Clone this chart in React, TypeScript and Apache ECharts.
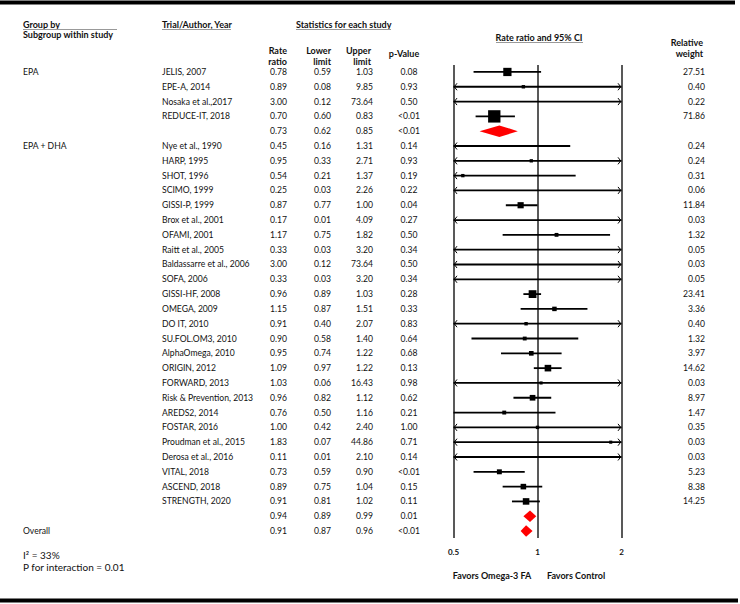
import React, { useEffect, useRef } from "react";
import * as echarts from "echarts";

// ---------- data ----------
const epaTrials = ["JELIS, 2007", "EPE-A, 2014", "Nosaka et al.,2017", "REDUCE-IT, 2018"];
const epaRate = [0.78, 0.89, 3.0, 0.7];
const epaLower = [0.59, 0.08, 0.12, 0.6];
const epaUpper = [1.03, 9.85, 73.64, 0.83];
const epaP = ["0.08", "0.93", "0.50", "<0.01"];
const epaWeight = [27.51, 0.4, 0.22, 71.86];
const epaPooled = [0.73, 0.62, 0.85];
const epaPooledP = "<0.01";

const dhaTrials = [
  "Nye et al., 1990", "HARP, 1995", "SHOT, 1996", "SCIMO, 1999", "GISSI-P, 1999",
  "Brox et al., 2001", "OFAMI, 2001", "Raitt et al., 2005", "Baldassarre et al., 2006", "SOFA, 2006",
  "GISSI-HF, 2008", "OMEGA, 2009", "DO IT, 2010", "SU.FOL.OM3, 2010", "AlphaOmega, 2010",
  "ORIGIN, 2012", "FORWARD, 2013", "Risk & Prevention, 2013", "AREDS2, 2014", "FOSTAR, 2016",
  "Proudman et al., 2015", "Derosa et al., 2016", "VITAL, 2018", "ASCEND, 2018", "STRENGTH, 2020",
];
const dhaRate = [0.45, 0.95, 0.54, 0.25, 0.87, 0.17, 1.17, 0.33, 3.0, 0.33, 0.96, 1.15, 0.91, 0.9, 0.95, 1.09, 1.03, 0.96, 0.76, 1.0, 1.83, 0.11, 0.73, 0.89, 0.91];
const dhaLower = [0.16, 0.33, 0.21, 0.03, 0.77, 0.01, 0.75, 0.03, 0.12, 0.03, 0.89, 0.87, 0.4, 0.58, 0.74, 0.97, 0.06, 0.82, 0.5, 0.42, 0.07, 0.01, 0.59, 0.75, 0.81];
const dhaUpper = [1.31, 2.71, 1.37, 2.26, 1.0, 4.09, 1.82, 3.2, 73.64, 3.2, 1.03, 1.51, 2.07, 1.4, 1.22, 1.22, 16.43, 1.12, 1.16, 2.4, 44.86, 2.1, 0.9, 1.04, 1.02];
const dhaP = ["0.14", "0.93", "0.19", "0.22", "0.04", "0.27", "0.50", "0.34", "0.50", "0.34", "0.28", "0.33", "0.83", "0.64", "0.68", "0.13", "0.98", "0.62", "0.21", "1.00", "0.71", "0.14", "<0.01", "0.15", "0.11"];
const dhaWeight = [0.24, 0.24, 0.31, 0.06, 11.84, 0.03, 1.32, 0.05, 0.03, 0.05, 23.41, 3.36, 0.4, 1.32, 3.97, 14.62, 0.03, 8.97, 1.47, 0.35, 0.03, 0.03, 5.23, 8.38, 14.25];
const dhaPooled = [0.94, 0.89, 0.99];
const dhaPooledP = "0.01";

const overallPooled = [0.91, 0.87, 0.96];
const overallP = "<0.01";

const axisTicks = [0.5, 1, 2];

// ---------- rows ----------
type Row = {
  group: string; trial: string; rate: number; lower: number; upper: number;
  p: string; weight: number | null; pooled: boolean;
};
const rows: Row[] = [];
epaTrials.forEach((t, i) =>
  rows.push({ group: i === 0 ? "EPA" : "", trial: t, rate: epaRate[i], lower: epaLower[i], upper: epaUpper[i], p: epaP[i], weight: epaWeight[i], pooled: false })
);
rows.push({ group: "", trial: "", rate: epaPooled[0], lower: epaPooled[1], upper: epaPooled[2], p: epaPooledP, weight: null, pooled: true });
dhaTrials.forEach((t, i) =>
  rows.push({ group: i === 0 ? "EPA + DHA" : "", trial: t, rate: dhaRate[i], lower: dhaLower[i], upper: dhaUpper[i], p: dhaP[i], weight: dhaWeight[i], pooled: false })
);
rows.push({ group: "", trial: "", rate: dhaPooled[0], lower: dhaPooled[1], upper: dhaPooled[2], p: dhaPooledP, weight: null, pooled: true });
rows.push({ group: "Overall", trial: "", rate: overallPooled[0], lower: overallPooled[1], upper: overallPooled[2], p: overallP, weight: null, pooled: true });

const FONT = "Lato";
const INK = "#111";
const BODY = 8.6;

function txt(text: string, x: number, y: number, align: string, bold = false, size = 9) {
  return {
    type: "text",
    x, y,
    style: { text, fill: INK, fontFamily: FONT, fontSize: size, fontWeight: bold ? "bold" : "normal", align, verticalAlign: "middle" },
  };
}
function hline(x1: number, x2: number, y: number, w: number, color: string) {
  return { type: "line", shape: { x1, y1: y, x2, y2: y }, style: { stroke: color, lineWidth: w } };
}

export default function App() {
  const ref = useRef<HTMLDivElement>(null);
  useEffect(() => {
    if (!ref.current) return;
    const chart = echarts.init(ref.current, null, { renderer: "svg" });
    const amin = axisTicks[0];
    const amax = axisTicks[axisTicks.length - 1];

    const studyData: number[][] = [];
    const pooledData: number[][] = [];
    rows.forEach((r, i) => {
      if (r.pooled) pooledData.push([r.rate, i, r.lower, r.upper]);
      else studyData.push([r.rate, i, r.lower, r.upper, r.weight as number]);
    });

    const option: any = {
      animation: false,
      grid: { left: 453.5, right: 118.5, top: 65, bottom: 66, containLabel: false, outerBoundsMode: "none" },
      xAxis: {
        type: "log", logBase: 2, min: amin, max: amax,
        axisLine: { show: false }, axisTick: { show: false },
        splitLine: { show: true, lineStyle: { color: "#222", width: 1.5 } },
        axisLabel: { fontFamily: FONT, fontWeight: "bold", fontSize: 8, color: INK, margin: 10 },
      },
      yAxis: { type: "value", inverse: true, min: -0.47, max: 31.47, show: false },
      series: [
        {
          type: "custom", name: "studies", data: studyData, encode: { x: 0, y: 1 }, clip: false,
          renderItem: (_p: any, api: any) => {
            const rate = api.value(0), row = api.value(1), lo = api.value(2), hi = api.value(3), w = api.value(4);
            const y = api.coord([1, row])[1];
            const xMin = api.coord([amin, row])[0];
            const xMax = api.coord([amax, row])[0];
            const xLo = api.coord([lo, row])[0];
            const xHi = api.coord([hi, row])[0];
            const xRate = api.coord([rate, row])[0];
            const children: any[] = [];
            children.push({ type: "line", shape: { x1: Math.max(xLo, xMin), y1: y, x2: Math.min(xHi, xMax), y2: y }, style: { stroke: "#000", lineWidth: 1.8 } });
            if (lo < amin) children.push({ type: "polyline", shape: { points: [[xMin + 3.5, y - 3.5], [xMin + 0.8, y], [xMin + 3.5, y + 3.5]] }, style: { stroke: "#000", fill: null, lineWidth: 1 } });
            if (hi > amax) children.push({ type: "polyline", shape: { points: [[xMax - 3.5, y - 3.5], [xMax - 0.8, y], [xMax - 3.5, y + 3.5]] }, style: { stroke: "#000", fill: null, lineWidth: 1 } });
            if (rate >= amin && rate <= amax) {
              const s = 3 + 0.72 * Math.pow(w, 0.6);
              children.push({ type: "rect", shape: { x: xRate - s / 2, y: y - s / 2, width: s, height: s }, style: { fill: "#000" } });
            }
            return { type: "group", children };
          },
        },
        {
          type: "custom", name: "pooled", data: pooledData, encode: { x: 0, y: 1 }, clip: false,
          renderItem: (_p: any, api: any) => {
            const rate = api.value(0), row = api.value(1), lo = api.value(2), hi = api.value(3);
            const y = api.coord([1, row])[1];
            const xLo = api.coord([lo, row])[0];
            const xHi = api.coord([hi, row])[0];
            const xRate = api.coord([rate, row])[0];
            return {
              type: "polygon",
              shape: { points: [[xLo, y], [xRate, y - 5.8], [xHi, y], [xRate, y + 5.8]] },
              style: { fill: "#ff0000" },
            };
          },
        },
        {
          type: "custom", name: "table", data: rows.map((_r, i) => [1, i]), encode: { x: 0, y: 1 }, clip: false,
          renderItem: (params: any, api: any) => {
            const r = rows[params.dataIndex];
            const y = api.coord([1, api.value(1)])[1];
            const children: any[] = [];
            if (r.group) children.push(txt(r.group, 23, y, "left", false, BODY));
            if (r.trial) children.push(txt(r.trial, 162, y, "left", false, BODY));
            children.push(txt(r.rate.toFixed(2), 287, y, "right", false, BODY));
            children.push(txt(r.lower.toFixed(2), 331, y, "right", false, BODY));
            children.push(txt(r.upper.toFixed(2), 373, y, "right", false, BODY));
            children.push(txt(r.p, 409, y, "center", false, BODY));
            if (r.weight !== null) children.push(txt(r.weight.toFixed(2), 705, y, "right", false, BODY));
            return { type: "group", children };
          },
        },
      ],
      graphic: [
        hline(0, 735, 2.5, 4, "#000"),
        hline(0, 738, 600.5, 4, "#000"),
        txt("Group by", 23, 24, "left", true),
        hline(23, 117, 29.5, 1, "#999"),
        txt("Subgroup within study", 23, 34.5, "left", true),
        txt("Trial/Author, Year", 162, 24, "left", true),
        hline(162, 231, 29.5, 1, "#999"),
        txt("Statistics for each study", 296, 24, "left", true),
        hline(296, 391, 29.5, 1, "#999"),
        txt("Rate", 287, 50.5, "right", true),
        txt("ratio", 287, 61, "right", true),
        txt("Lower", 331, 50.5, "right", true),
        txt("limit", 331, 61, "right", true),
        txt("Upper", 371, 50.5, "right", true),
        txt("limit", 371, 61, "right", true),
        txt("p-Value", 404, 53, "center", true),
        txt("Rate ratio and 95% CI", 539, 37, "center", true),
        hline(496, 583, 42.5, 1, "#999"),
        txt("Relative", 703, 42, "right", true),
        txt("weight", 703, 53, "right", true),
        txt("I² = 33%", 23, 555, "left", false, 10),
        txt("P for interaction = 0.01", 23, 567, "left", false, 10),
        txt("Favors Omega-3 FA", 492, 575, "center", true),
        txt("Favors Control", 576, 575, "center", true),
      ],
    };
    chart.setOption(option);
    return () => chart.dispose();
  }, []);
  return <div ref={ref} style={{ position: "absolute", left: 0, top: 0, width: 740, height: 604 }} />;
}
